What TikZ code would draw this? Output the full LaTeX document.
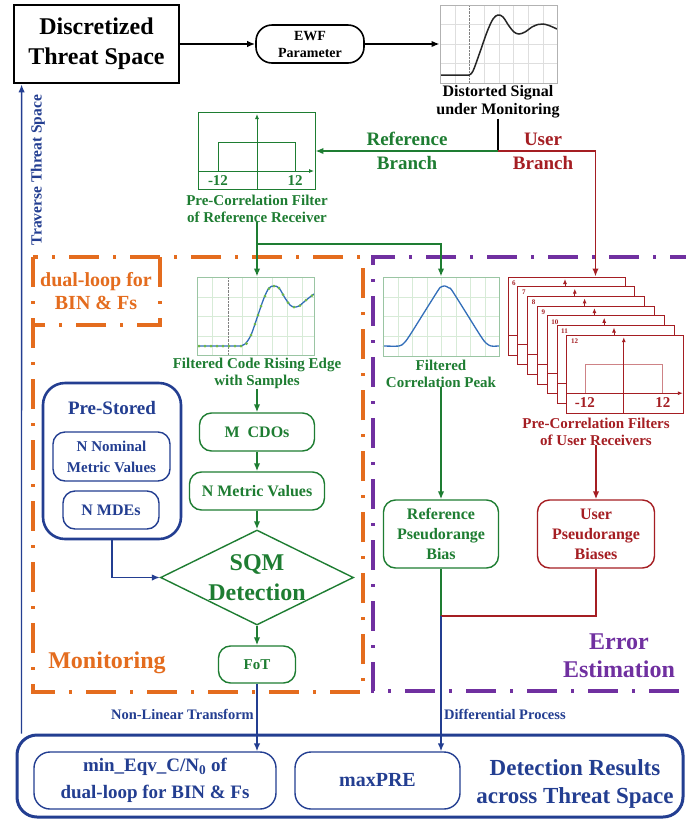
\documentclass[tikz,border=0pt]{standalone}
\usepackage{fontspec}
\setmainfont{Liberation Serif}
\usetikzlibrary{arrows.meta,shapes.geometric,calc}
\definecolor{gcol}{RGB}{30,125,50}
\definecolor{rcol}{RGB}{165,30,35}
\definecolor{bcol}{RGB}{35,62,145}
\definecolor{ocol}{RGB}{228,108,30}
\definecolor{pcol}{RGB}{112,48,160}
\definecolor{crv}{RGB}{50,110,185}
\definecolor{dotc}{RGB}{110,185,70}
\definecolor{grd}{RGB}{222,222,222}
\definecolor{ggrd}{RGB}{215,235,215}
\newcommand\myfs[2]{\fontsize{#1}{#2}\selectfont\bfseries}
\begin{document}
\begin{tikzpicture}[x=1pt,y=-1pt,
  conn/.style={line width=1.8pt,-{Latex[length=8pt,width=6.5pt]}},
  bconn/.style={line width=1.4pt,-{Latex[length=8pt,width=6.5pt]},bcol},
  wire/.style={line width=1.8pt},
  rbox/.style={draw,rounded corners=12pt,line width=1.4pt,inner sep=0pt,align=center},
  tbox/.style={draw,line width=2.8pt,inner sep=0pt,align=center},
  captxt/.style={align=center,inner sep=0pt},
  gbox/.style={draw,inner sep=0pt,line width=0.9pt},
  axis/.style={line width=0.9pt,-{Latex[length=5pt,width=4pt]}},
  dashdot/.style={line width=4.5pt,dash pattern=on 30pt off 14pt on 3pt off 14pt},
]
\clip (0,0) rectangle (686,823);
\fill[white] (0,0) rectangle (686,823);

% ---------- top row ----------
\node[tbox, minimum width=165pt, minimum height=78pt, font=\myfs{24}{30}] (threat) at (96.5,44) {Discretized\\Threat Space};
\node[rbox, rounded corners=16pt, line width=1.6pt, minimum width=108pt, minimum height=38pt, font=\myfs{14}{17}] (ewf) at (310,44) {EWF\\Parameter};

% distorted signal graph
\foreach \x in {455,484,499,513,528,543} \draw[grd] (\x,5) -- (\x,83);
\foreach \y in {24,44,63} \draw[grd] (440,\y) -- (557,\y);
\draw[densely dotted, gray] (469,5) -- (469,83);
\draw[line width=1.5pt, black!85] (440,75) -- plot[smooth,tension=0.55] coordinates {(469,75)(473,71)(480,52)(487,32)(493,19)(498,15)(503,17)(509,26)(514,32)(519,34)(525,32)(532,27)(538,24.5)(543,24)(549,25.5)(557,29)};
\node[gbox, draw=gray!60, minimum width=117pt, minimum height=78pt] (dsg) at (498.5,44) {};
\node[captxt, font=\myfs{16}{18}] (dcap) at (498,102) {Distorted Signal\\under Monitoring};

\draw[conn] (threat.east) -- (ewf.west);
\draw[conn] (ewf.east) -- (dsg.west);

\coordinate (J) at (498,151);
\draw[wire] (dcap.south) -- (J);

% reference filter
\draw[gcol, line width=0.9pt] (218,171) -- (218,142) -- (295,142) -- (295,171);
\draw[axis,gcol] (198,171) -- (314,171);
\draw[axis,gcol] (257,190) -- (257,114);
\node[gbox, draw=gcol, minimum width=117pt, minimum height=77pt] (rf) at (256.5,151) {};
\node[font=\myfs{15}{15}, text=gcol, inner sep=0pt] (rfm) at (218,181) {-12};
\node[font=\myfs{15}{15}, text=gcol, inner sep=0pt] (rfp) at (295,181) {12};
\node[captxt, font=\myfs{15}{17}, text=gcol] (rcap) at (257,208.5) {Pre-Correlation Filter\\of Reference Receiver};

\draw[conn,gcol] (J) -- (rf.east);
\node[captxt, font=\myfs{19}{24}, text=gcol] (refbr) at (407,151) {Reference\\Branch};
\node[captxt, font=\myfs{19}{24}, text=rcol] (usrbr) at (543,151) {User\\Branch};

% ---------- dash-dot regions ----------
\draw[dashdot, ocol] (33,257) rectangle (363,692);
\draw[dashdot, ocol] (160,257) -- (160,325) -- (33,325);
\draw[dashdot, pcol] (700,257) -- (373,257) -- (373,691) -- (700,691);
\node[captxt, font=\myfs{20}{23}, text=ocol] (dl) at (96,291) {dual-loop for\\BIN \& Fs};
\node[captxt, font=\myfs{24}{28}, text=ocol] (mon) at (107,663) {Monitoring};
\node[captxt, font=\myfs{24}{28}, text=pcol] (errest) at (619,656) {Error\\Estimation};

% ---------- rising edge graph ----------
\foreach \x in {212,242,257,272,287,302} \draw[ggrd] (\x,277) -- (\x,355);
\foreach \y in {297,316,336} \draw[ggrd] (197,\y) -- (314,\y);
\draw[densely dotted, gray] (228,277) -- (228,355);
\draw[line width=1.3pt, crv] (198,346) -- plot[smooth,tension=0.55] coordinates {(240,346)(245,344)(251,335)(258,315)(264,298)(269,288)(274,286)(279,288)(285,298)(290,305)(294,307)(299,306)(305,301)(310,297)(314,294)};
\foreach \x in {199,205,211,217,223,229,235,241} \fill[dotc] (\x,346) circle (1.5pt);
\foreach \p in {(246.5,343.5),(251,335),(255,324),(258,315),(261,306),(265,296),(269,288.5),(274,286),(279,288),(283,294.5),(288,302.5),(294,307),(300,305.5),(306,300),(312,295.5)} \fill[dotc] \p circle (1.5pt);
\node[gbox, draw=gcol!45, minimum width=117pt, minimum height=78pt] (rise) at (256,316) {};
\node[captxt, font=\myfs{15}{17}, text=gcol] (risecap) at (257,373.5) {Filtered Code Rising Edge\\with Samples};

% ---------- correlation peak graph ----------
\foreach \x in {398,412,427,441,456,470,485} \draw[ggrd] (\x,277) -- (\x,356);
\foreach \y in {297,316,336} \draw[ggrd] (383,\y) -- (499,\y);
\draw[line width=1.3pt, crv] plot[smooth,tension=0.45] coordinates {(383,346)(399,346)(404,343)(410,335)(437,292)(441,287)(445,286)(449,288)(453,292)(480,335)(486,343)(491,346)(499,346)};
\node[gbox, draw=gcol!45, minimum width=116pt, minimum height=79pt] (corr) at (441,316.5) {};
\node[captxt, font=\myfs{15}{17}, text=gcol] (corrcap) at (441,373.5) {Filtered\\Correlation Peak};

\coordinate (S1) at (257,244);
\draw[conn,gcol] (rcap.south) -- (S1) -| (corr.north);
\draw[conn,gcol] (S1) -- (S1 |- rise.north);

% ---------- user filter stack ----------
\foreach \i [evaluate=\i as \xo using 508+9.8*\i, evaluate=\i as \yo using 277+9.7*\i, evaluate=\i as \lab using int(6+\i)] in {0,...,6} {
  \node[draw=rcol, fill=white, line width=1pt, inner sep=0pt, minimum width=117pt, minimum height=78pt] (s\i) at (\xo+58.5,\yo+39) {};
  \draw[rcol!55, line width=0.9pt] (\xo+19,\yo+58) -- (\xo+19,\yo+29) -- (\xo+96,\yo+29) -- (\xo+96,\yo+58);
  \draw[axis,rcol] (\xo,\yo+58) -- (\xo+116,\yo+58);
  \draw[axis,rcol] (\xo+57,\yo+78) -- (\xo+57,\yo+2);
  \node[font=\myfs{7}{7}, text=rcol, inner sep=0pt, anchor=west] at (\xo+4,\yo+6) {\lab};
}
\node[font=\myfs{15}{15}, text=rcol, inner sep=0pt] (um) at (584.8,403) {-12};
\node[font=\myfs{15}{15}, text=rcol, inner sep=0pt] (up) at (662.8,403) {12};
\draw[conn,rcol] (J) -| ([xshift=88pt]s0.north west);
\node[captxt, font=\myfs{15}{17}, text=rcol] (ucap) at (596,431.5) {Pre-Correlation Filters\\of User Receivers};

% ---------- monitoring chain ----------
\node[rbox, draw=gcol, text=gcol, minimum width=115pt, minimum height=38pt, font=\myfs{16}{18}] (mcdo) at (257,432) {M\ \ CDOs};
\node[rbox, draw=gcol, text=gcol, minimum width=135pt, minimum height=38pt, font=\myfs{16}{18}] (nmv) at (257,491) {N Metric Values};
\node[diamond, draw=gcol, line width=1.4pt, inner sep=0pt, minimum width=193pt, minimum height=95pt] (sqm) at (257,577.5) {};
\node[captxt, font=\myfs{24}{30}, text=gcol] (sqmt) at (sqm) {SQM\\Detection};
\node[rbox, draw=gcol, text=gcol, minimum width=77pt, minimum height=37pt, font=\myfs{15}{17}] (fot) at (257,664.5) {FoT};

\draw[conn,gcol] (risecap.south) -- (risecap.south |- mcdo.north);
\draw[conn,gcol] (mcdo.south) -- (nmv.north);
\draw[conn,gcol] (nmv.south) -- (sqm.north);
\draw[conn,gcol] (sqm.south) -- (fot.north);

% pre-stored
\node[rbox, draw=bcol, rounded corners=22pt, line width=2.6pt, minimum width=138pt, minimum height=156pt] (pre) at (112,461) {};
\node[captxt, font=\myfs{19}{22}, text=bcol] (pret) at (112,408) {Pre-Stored};
\node[rbox, draw=bcol, text=bcol, minimum width=117pt, minimum height=49pt, font=\myfs{15}{21}] (nnom) at (111.5,456.5) {N Nominal\\Metric Values};
\node[rbox, draw=bcol, text=bcol, minimum width=96pt, minimum height=38pt, font=\myfs{16}{18}] (nmde) at (111,510) {N MDEs};
\draw[bconn] (pre.south) |- (sqm.west);

% ---------- error estimation ----------
\node[rbox, draw=gcol, text=gcol, minimum width=115pt, minimum height=68pt, font=\myfs{16}{20}] (rbias) at (441,534) {Reference\\Pseudorange\\Bias};
\node[rbox, draw=rcol, text=rcol, minimum width=117pt, minimum height=68pt, font=\myfs{16}{20}] (ubias) at (596,534) {User\\Pseudorange\\Biases};
\draw[conn,gcol] (corrcap.south) -- (corrcap.south |- rbias.north);
\draw[conn,rcol] (ucap.south) -- (ucap.south |- ubias.north);
\coordinate (K) at (441,616);
\draw[wire,gcol] (rbias.south) -- (K);
\draw[wire,rcol] (ubias.south) |- (K);

% ---------- results ----------
\node[draw=bcol, rounded corners=20pt, line width=3pt, inner sep=0pt, minimum width=666pt, minimum height=82pt] (big) at (350,776) {};
\node[rbox, draw=bcol, text=bcol, rounded corners=16pt, minimum width=242pt, minimum height=57pt, font=\myfs{19}{27}] (minb) at (155,780.5) {min\_Eqv\_C/N\textsubscript{0} of\\dual-loop for BIN \& Fs};
\node[rbox, draw=bcol, text=bcol, rounded corners=16pt, minimum width=165pt, minimum height=57pt, font=\myfs{20}{24}] (maxpre) at (377.5,780.5) {maxPRE};
\node[captxt, font=\myfs{23}{28}, text=bcol] (detres) at (575,784) {Detection Results\\across Threat Space};

\draw[bconn] (fot.south) -- (fot.south |- minb.north);
\draw[bconn] (K) -- (K |- maxpre.north);
\node[font=\myfs{14.5}{15}, text=bcol, anchor=east, inner sep=0pt] (nlt) at (254,714) {Non-Linear Transform};
\node[font=\myfs{14.5}{15}, text=bcol, anchor=west, inner sep=0pt] (dfp) at (444,714) {Differential Process};

\draw[bconn] ([xshift=6pt]big.north west) -- ([xshift=9pt]threat.south west);
\node[rotate=90, font=\myfs{15.5}{16}, text=bcol, inner sep=0pt] (trav) at (38,170) {Traverse Threat Space};
\end{tikzpicture}
\end{document}
